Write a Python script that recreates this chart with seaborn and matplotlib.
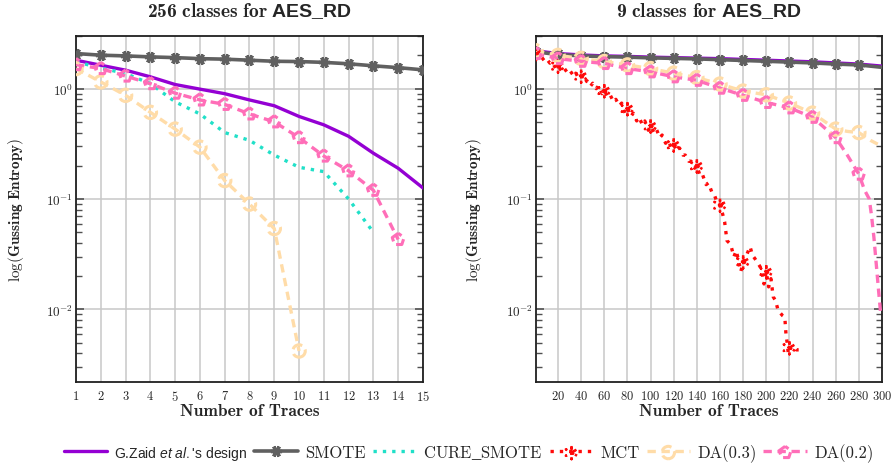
import seaborn as sns
import matplotlib.pyplot as plt
from matplotlib.ticker import LogLocator, NullFormatter, FixedLocator

# ---------------- data: 256 classes ----------------
traces_256 = list(range(1, 16))
zaid_256 = [1.81, 1.63, 1.47, 1.28, 1.09, 0.99, 0.90, 0.79, 0.70, 0.56, 0.47, 0.37, 0.26, 0.19, 0.126]
smote_256 = [2.08, 2.01, 1.98, 1.94, 1.91, 1.87, 1.85, 1.81, 1.77, 1.76, 1.73, 1.68, 1.61, 1.55, 1.48]
cure_256 = [1.75, 1.54, 1.37, 1.11, 0.76, 0.59, 0.40, 0.34, 0.25, 0.194, 0.177, 0.10, 0.050]
da03_256 = [1.52, 1.15, 0.87, 0.61, 0.43, 0.295, 0.147, 0.09, 0.054, 0.0042]
da02_256 = [1.65, 1.52, 1.30, 1.11, 0.91, 0.79, 0.72, 0.59, 0.50, 0.36, 0.245, 0.18, 0.12, 0.043]

# ---------------- data: 9 classes ----------------
traces_9 = [1, 20, 40, 60, 80, 100, 120, 140, 160, 180, 200, 220, 240, 260, 280, 300]
zaid_9 = [2.20, 2.08, 2.02, 1.98, 1.96, 1.93, 1.91, 1.89, 1.87, 1.84, 1.81, 1.78, 1.75, 1.71, 1.67, 1.60]
smote_9 = [2.15, 2.04, 1.98, 1.95, 1.93, 1.90, 1.88, 1.86, 1.83, 1.80, 1.77, 1.74, 1.71, 1.67, 1.64, 1.56]
da03_x9 = [1, 20, 40, 60, 80, 100, 120, 140, 160, 180, 200, 220, 240, 260, 270, 280, 290, 300]
da03_9 = [2.20, 2.00, 1.88, 1.76, 1.64, 1.52, 1.38, 1.26, 1.10, 0.95, 0.88, 0.74, 0.60, 0.43, 0.41, 0.40, 0.34, 0.30]
da02_x9 = [1, 20, 40, 60, 80, 100, 120, 140, 160, 180, 200, 220, 240, 260, 270, 280,
           285, 289, 291, 293, 295, 297, 299]
da02_9 = [2.08, 1.87, 1.77, 1.69, 1.52, 1.42, 1.28, 1.19, 1.01, 0.87, 0.75, 0.67, 0.55, 0.36, 0.25, 0.168,
          0.12, 0.10, 0.07, 0.045, 0.026, 0.015, 0.0088]
mct_x = [1, 3, 5, 8, 10, 13, 15, 18, 20, 23, 25, 28, 30, 33, 35, 38, 40, 43, 45, 48, 50, 53, 55,
         58, 60, 63, 65, 68, 70, 73, 75, 78, 80, 83, 85, 88, 90, 93, 95, 98, 100, 103, 105, 108,
         110, 113, 115, 118, 120, 123, 125, 128, 130, 133, 135, 138, 140, 143, 145, 148, 150, 153,
         155, 158, 160, 162, 164, 166, 168, 170, 172, 174, 176, 178, 180, 182, 184, 186, 188, 190,
         192, 194, 196, 198, 200, 202, 204, 206, 208, 210, 212, 214, 216, 217, 218, 219, 220,
         222, 224, 226, 228]
mct_y = [2.08, 1.92, 1.98, 1.80, 1.87, 1.70, 1.75, 1.52, 1.60, 1.45, 1.55, 1.40, 1.47, 1.33, 1.42,
         1.22, 1.30, 1.14, 1.18, 1.05, 1.12, 1.00, 1.06, 0.90, 0.96, 0.84, 0.88, 0.76, 0.80, 0.70,
         0.74, 0.60, 0.66, 0.56, 0.60, 0.51, 0.55, 0.47, 0.51, 0.42, 0.46, 0.40, 0.43, 0.36, 0.38,
         0.32, 0.34, 0.29, 0.31, 0.27, 0.29, 0.25, 0.25, 0.22, 0.22, 0.19, 0.20, 0.16, 0.165, 0.135,
         0.14, 0.115, 0.11, 0.09, 0.088, 0.075, 0.062, 0.042, 0.040, 0.036, 0.030, 0.034, 0.028,
         0.022, 0.027, 0.029, 0.033, 0.037, 0.031, 0.029, 0.027, 0.025, 0.023, 0.017, 0.022, 0.016,
         0.019, 0.013, 0.012, 0.010, 0.0093, 0.0088, 0.0085, 0.0060, 0.0050, 0.0040, 0.0045,
         0.0045, 0.0046, 0.0043, 0.0043]

labels = ["G.Zaid $\\mathit{et\\ al.}$'s design", "SMOTE", "CURE$\\mathsf{\\_}$SMOTE", "MCT",
          "DA(0.3)", "DA(0.2)"]
c_zaid, c_smote, c_cure, c_mct, c_da03, c_da02 = "#9400d3", "#606060", "#20e0c8", "#ff0a0a", "#ffdca8", "#ff6eb8"

sns.set_theme(style="white")
plt.rcParams["font.family"] = ["cmr10", "DejaVu Sans"]
plt.rcParams["mathtext.fontset"] = "custom"
plt.rcParams["mathtext.rm"] = "cmr10"
plt.rcParams["mathtext.bf"] = "cmb10"
plt.rcParams["mathtext.sf"] = "Liberation Sans:bold"
plt.rcParams["mathtext.it"] = "Liberation Sans:italic"
plt.rcParams["axes.formatter.use_mathtext"] = True

fig = plt.figure(figsize=(8.91, 4.64), dpi=100)
ax1 = fig.add_axes([0.0853, 0.1746, 0.3894, 0.7457])
ax2 = fig.add_axes([0.6016, 0.1746, 0.3883, 0.7457])

dash = (0, (2.5, 1.7))
dot = (0, (1, 1.8))


def marks(ax, xs, ys, keep, color, shape, size, ls, width=2.2, filled_face=False):
    mx = [x for x in xs if keep(x)]
    my = [y for x, y in zip(xs, ys) if keep(x)]
    face = color if filled_face else "none"
    sns.scatterplot(x=mx, y=my, ax=ax, marker=shape, s=size, facecolor=face,
                    edgecolor=color, linewidth=width, linestyle=ls, zorder=5)
    return ax.collections[-1]


def every20(x):
    return (x == 1 or x % 20 == 0) and x <= 280


# --- left panel ---
ax = ax1
sns.lineplot(x=traces_256, y=zaid_256, ax=ax, color=c_zaid, lw=2.4, zorder=4)
sns.lineplot(x=traces_256, y=smote_256, ax=ax, color=c_smote, lw=2.6, marker=(6, 2, 90),
             markersize=8, markeredgewidth=2.4, markeredgecolor=c_smote, zorder=4)
sns.lineplot(x=traces_256[:len(cure_256)], y=cure_256, ax=ax, color=c_cure, lw=2.4, linestyle=dot, zorder=4)
sns.lineplot(x=traces_256[:len(da03_256)], y=da03_256, ax=ax, color=c_da03, lw=2.4, linestyle=dash, zorder=4)
marks(ax, traces_256[:len(da03_256)], da03_256, lambda x: True, c_da03, "o", 80, "--")
sns.lineplot(x=traces_256[:len(da02_256)], y=da02_256, ax=ax, color=c_da02, lw=2.4, linestyle=dash, zorder=4)
marks(ax, traces_256[:len(da02_256)], da02_256, lambda x: True, c_da02, "p", 80, "--")
ax.set_xlim(1, 15)
ax.xaxis.set_major_locator(FixedLocator(traces_256))

# --- right panel ---
ax = ax2
h = []
sns.lineplot(x=traces_9, y=zaid_9, ax=ax, color=c_zaid, lw=2.4, zorder=4)
h.append(ax.lines[-1])
sns.lineplot(x=traces_9, y=smote_9, ax=ax, color=c_smote, lw=2.6, marker=(6, 2, 90),
             markersize=8, markeredgewidth=2.4, markeredgecolor=c_smote,
             markevery=list(range(len(traces_9) - 1)), zorder=4)
h.append(ax.lines[-1])
sns.lineplot(x=mct_x, y=mct_y, ax=ax, color=c_mct, lw=2.4, linestyle=dot, zorder=4)
mct_line = ax.lines[-1]
mct_mark = marks(ax, mct_x, mct_y, every20, c_mct, (6, 2, 0), 90, (0, (1, 1.5)), width=1.8,
                 filled_face=True)
sns.lineplot(x=da03_x9, y=da03_9, ax=ax, color=c_da03, lw=2.4, linestyle=dash, zorder=4)
da03_line = ax.lines[-1]
da03_mark = marks(ax, da03_x9, da03_9, every20, c_da03, "o", 80, "--")
sns.lineplot(x=da02_x9, y=da02_9, ax=ax, color=c_da02, lw=2.4, linestyle=dash, zorder=4)
da02_line = ax.lines[-1]
da02_mark = marks(ax, da02_x9, da02_9, every20, c_da02, "p", 80, "--")
ax.set_xlim(1, 300)
ax.xaxis.set_major_locator(FixedLocator(list(range(20, 301, 20))))

cure_line = ax1.lines[2]
handles = [h[0], h[1], cure_line, (mct_line, mct_mark), (da03_line, da03_mark), (da02_line, da02_mark)]

titles = ["$\\mathbf{256\\ classes\\ for}\\ \\mathsf{AES\\_RD}$",
          "$\\mathbf{9\\ classes\\ for}\\ \\mathsf{AES\\_RD}$"]
for ax, title, ylx in [(ax1, titles[0], -0.145), (ax2, titles[1], -0.15)]:
    ax.set_yscale("log")
    ax.set_ylim(0.0022, 3.0)
    ax.yaxis.set_major_locator(LogLocator(base=10, numticks=10))
    ax.yaxis.set_minor_locator(LogLocator(base=10, subs=range(2, 10), numticks=20))
    ax.yaxis.set_minor_formatter(NullFormatter())
    ax.grid(True, which="major", color="#c8c8c8", lw=1.1, zorder=0)
    ax.set_axisbelow(True)
    ax.tick_params(axis="y", which="major", direction="in", length=6, width=1.2, color="#505050",
                   left=True, right=True, labelsize=9.5, pad=2)
    ax.tick_params(axis="y", which="minor", direction="in", length=4, width=1.0, color="#505050",
                   left=True, right=True)
    ax.tick_params(axis="x", which="major", direction="in", length=0, labelsize=9, pad=5)
    for sp in ax.spines.values():
        sp.set_color("#202020")
        sp.set_linewidth(1.3)
    ax.set_title(title, fontsize=14, pad=14)
    ax.set_xlabel("Number of Traces", fontfamily="cmb10", fontsize=12.5)
    ax.set_ylabel("$\\log(\\mathbf{Gussing\\ Entropy})$", fontsize=11)
    ax.xaxis.set_label_coords(0.5, -0.06)
    ax.yaxis.set_label_coords(ylx, 0.5)

leg = fig.legend(handles, labels, loc="lower center", bbox_to_anchor=(0.526, -0.03), ncol=6,
                 frameon=False, fontsize=12, handlelength=2.6, handletextpad=0.45, columnspacing=0.4)
leg.get_texts()[0].set_family("Liberation Sans")
leg.get_texts()[0].set_fontsize(10)

fig.savefig("out.png", dpi=100)
